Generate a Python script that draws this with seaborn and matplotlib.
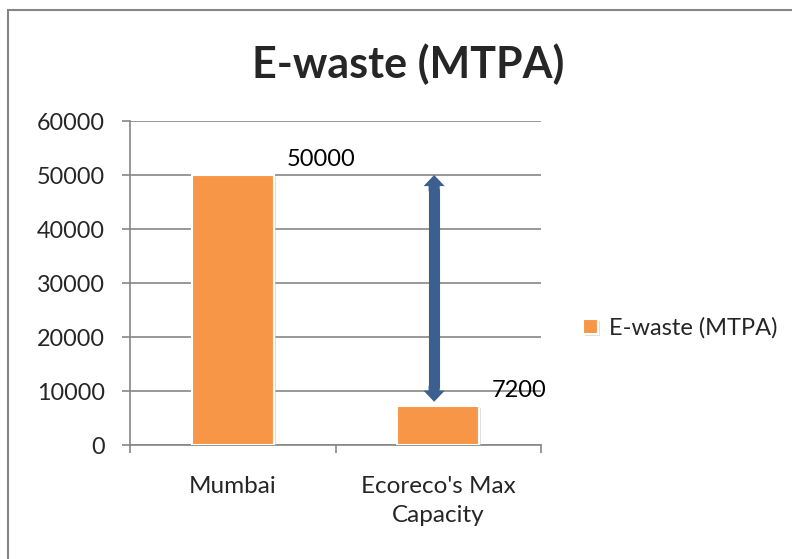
import matplotlib
matplotlib.use('Agg')
import matplotlib.pyplot as plt
import matplotlib.patheffects as pe
import seaborn as sns
import pandas as pd

# 数据
categories = ['Mumbai', "Ecoreco's Max\nCapacity"]
values = [50000, 7200]
series_name = 'E-waste (MTPA)'
y_ticks = [0, 10000, 20000, 30000, 40000, 50000, 60000]

bar_color = '#F79646'
arrow_color = '#3B5F8E'
grid_color = '#868686'

sns.set_theme(style='white')
plt.rcParams['font.family'] = ['Lato', 'DejaVu Sans']

df = pd.DataFrame({'place': categories, 'ewaste': values})

fig = plt.figure(figsize=(7.92, 5.59), dpi=100)
ax = fig.add_axes([130 / 792, 1 - 445 / 559, 411 / 792, 324 / 559])

sns.barplot(data=df, x='place', y='ewaste', color=bar_color, width=0.4,
            saturation=1, ax=ax, label=series_name,
            edgecolor='white', linewidth=1.5, zorder=3)
for bar in ax.patches:
    bar.set_path_effects([pe.SimplePatchShadow(offset=(1.5, -1.5), shadow_rgbFace='#c8c8c8', alpha=0.6),
                          pe.Normal()])
handles, labels = ax.get_legend_handles_labels()
if ax.get_legend() is not None:
    ax.get_legend().remove()

# 数据标签
for bar, v in zip(ax.patches, values):
    ax.annotate(str(v), (bar.get_x() + bar.get_width(), v),
                xytext=(9, 11), textcoords='offset points',
                ha='left', va='center', fontsize=17, color='black', zorder=5)

# 双向箭头：粗线做箭杆，两端各画一个箭头
lo = values[1] + 800
hi = values[0]
arrow_x = 0.98
ax.vlines(arrow_x, lo + 2500, hi - 2500, color=arrow_color, lw=8, capstyle='butt', zorder=6)
for end, start in [(hi, hi - 3000), (lo, lo + 3000)]:
    ax.annotate('', xy=(arrow_x, end), xytext=(arrow_x, start),
                arrowprops=dict(arrowstyle='simple,head_length=1.0,head_width=1.9,tail_width=1',
                                mutation_scale=8, color=arrow_color, lw=0,
                                shrinkA=0, shrinkB=0), zorder=6)

ax.set_ylim(0, 60000)
ax.set_xlim(-0.5, 1.5)
ax.set_yticks(y_ticks)
ax.set_yticklabels([str(t) for t in y_ticks], fontsize=16.8)
ax.yaxis.grid(True, color=grid_color, linewidth=1.2)
ax.set_axisbelow(True)

ax.set_xticks([-0.5, 0.5, 1.5])
ax.set_xticklabels(['', '', ''])
ax.set_xticks([0, 1], minor=True)
ax.set_xticklabels(categories, minor=True, fontsize=17.5, linespacing=1.5)
ax.tick_params(axis='x', which='minor', length=0, pad=22)
ax.tick_params(axis='x', which='major', length=6, width=1.2, color=grid_color, direction='out', bottom=True)
ax.tick_params(axis='y', length=6, width=1.2, color=grid_color, direction='out', left=True, pad=12)

ax.set_xlabel('')
ax.set_ylabel('')
for s in ['top', 'right']:
    ax.spines[s].set_visible(False)
for s in ['left', 'bottom']:
    ax.spines[s].set_color(grid_color)
    ax.spines[s].set_linewidth(1.2)

fig.text(408 / 792, 1 - 64 / 559, 'E-waste (MTPA)', ha='center', va='center',
         fontsize=31, fontweight='bold')

fig.legend(handles[:1], labels[:1], loc='center left', bbox_to_anchor=(583 / 792, 1 - 328 / 559),
           frameon=False, fontsize=17, handlelength=0.65, handleheight=0.65,
           handletextpad=0.45, borderpad=0, borderaxespad=0)

# 外框
fig.patches.append(plt.Rectangle((8 / 792, -0.1), 1.2, 1.1 - 10 / 559, transform=fig.transFigure,
                                 fill=False, edgecolor=grid_color, linewidth=1.5))

fig.savefig('out.png', dpi=100)
